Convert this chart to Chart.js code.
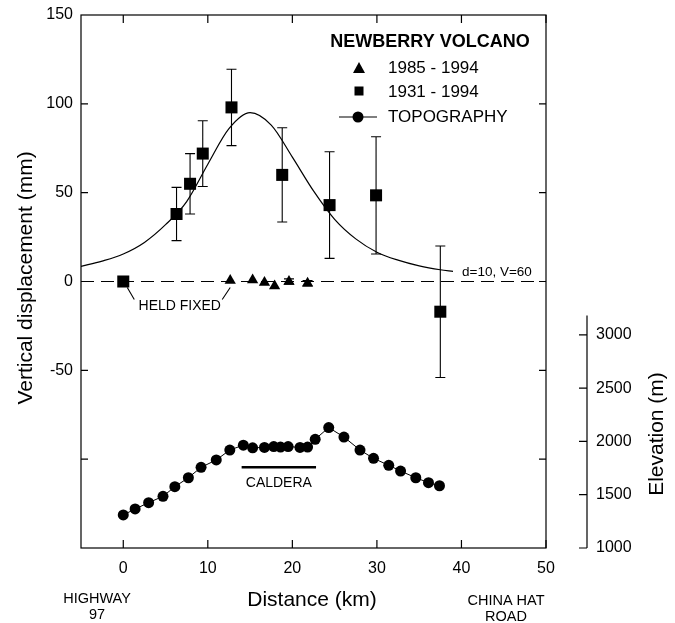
<!DOCTYPE html>
<html>
<head>
<meta charset="utf-8">
<script src="https://cdn.jsdelivr.net/npm/chart.js@4.4.1/dist/chart.umd.min.js"></script>
<style>
  html, body { margin: 0; padding: 0; background: #fff; }
  #chart-wrapper { width: 675px; height: 623px; }
</style>
</head>
<body>
<div id="chart-wrapper"><canvas id="chart"></canvas></div>
<script>
var distTicks = [0, 10, 20, 30, 40, 50];
var dispTicks = [-50, 0, 50, 100, 150];
var dispTickMarks = [-100, -50, 0, 50, 100];
var elevTicks = [1000, 1500, 2000, 2500, 3000];

// 1931 - 1994 (mm), +/- error
var sqDist = [0, 6.3, 7.9, 9.4, 12.8, 18.8, 24.4, 29.9, 37.5];
var sqDisp = [0, 38, 55, 72, 98, 60, 43, 48.5, -17];
var sqErr = [0, 15, 17, 18.5, 21.5, 26.5, 30, 33, 37];

// 1985 - 1994 (mm)
var triDist = [12.65, 15.3, 16.7, 17.9, 19.6, 21.8];
var triDisp = [0.5, 0.8, -0.5, -2.5, 0, -1];
var triErr = [0, 0, 0, 0, 1.5, 1.5];

// model curve d=10, V=60
var modelDist = [-5, -2.5, 0, 2.5, 5, 7.5, 10, 12.5, 15, 17.5, 20, 22.5, 25, 27.5, 30, 32.5, 35, 37.5, 39];
var modelDisp = [8.5, 11.5, 15.5, 22, 32, 45, 66, 86, 95, 88, 70, 51, 35, 24, 16.5, 12, 8.8, 6.6, 5.7];

// topography (m)
var topoDist = [0, 1.4, 3.0, 4.7, 6.1, 7.7, 9.2, 11.0, 12.6, 14.2, 15.3, 16.7, 17.8, 18.6, 19.5, 20.9, 21.8, 22.7, 24.3, 26.1, 28.0, 29.6, 31.4, 32.8, 34.6, 36.1, 37.4];
var topoElev = [1310, 1366, 1425, 1485, 1575, 1659, 1757, 1826, 1919, 1965, 1940, 1943, 1952, 1947, 1952, 1943, 1947, 2020, 2130, 2041, 1919, 1841, 1776, 1722, 1659, 1613, 1584];

var calderaDist = [14.0, 22.8];
var calderaElev = 1757;

var FONT = "'Liberation Sans', Arial, Helvetica, sans-serif";

function pts(xs, ys) {
  return xs.map(function(x, i) { return { x: x, y: ys[i] }; });
}

function fixTicks(list) {
  return function(scale) {
    scale.ticks = list.map(function(v) { return { value: v }; });
  };
}

// fixed box size, and no extra padding from the tick labels
function fixSize(w, h) {
  return function(scale) {
    if (w) scale.width = w;
    if (h) scale.height = h;
    scale.paddingTop = 0;
    scale.paddingBottom = 0;
    scale.paddingLeft = 0;
    scale.paddingRight = 0;
  };
}

function plain(v) { return String(v); }

var extras = {
  id: 'extras',
  afterDraw: function(chart) {
    var ctx = chart.ctx;
    var a = chart.chartArea;
    var xs = chart.scales.x, ys = chart.scales.y, es = chart.scales.elev;
    ctx.save();
    ctx.strokeStyle = '#000';
    ctx.fillStyle = '#000';
    ctx.lineWidth = 1.2;

    // frame
    ctx.strokeRect(a.left, a.top, a.right - a.left, a.bottom - a.top);

    // inward ticks
    ctx.beginPath();
    distTicks.forEach(function(v) {
      var p = xs.getPixelForValue(v);
      ctx.moveTo(p, a.bottom); ctx.lineTo(p, a.bottom - 8);
      ctx.moveTo(p, a.top); ctx.lineTo(p, a.top + 8);
    });
    dispTickMarks.forEach(function(v) {
      var p = ys.getPixelForValue(v);
      ctx.moveTo(a.left, p); ctx.lineTo(a.left + 7, p);
      ctx.moveTo(a.right, p); ctx.lineTo(a.right - 7, p);
    });
    ctx.stroke();

    // elevation axis
    var ex = a.right + 41;
    ctx.beginPath();
    ctx.moveTo(ex, es.getPixelForValue(3180));
    ctx.lineTo(ex, es.getPixelForValue(1000));
    elevTicks.forEach(function(v) {
      var p = es.getPixelForValue(v);
      ctx.moveTo(ex, p); ctx.lineTo(ex - 8, p);
    });
    ctx.stroke();

    // error bars
    ctx.lineWidth = 1.1;
    function bars(dx, dy, de) {
      ctx.beginPath();
      dx.forEach(function(x, i) {
        if (!de[i]) return;
        var px = xs.getPixelForValue(x);
        var y1 = ys.getPixelForValue(dy[i] + de[i]);
        var y2 = ys.getPixelForValue(dy[i] - de[i]);
        ctx.moveTo(px, y1); ctx.lineTo(px, y2);
        ctx.moveTo(px - 5, y1); ctx.lineTo(px + 5, y1);
        ctx.moveTo(px - 5, y2); ctx.lineTo(px + 5, y2);
      });
      ctx.stroke();
    }
    bars(sqDist, sqDisp, sqErr);
    bars(triDist, triDisp, triErr);

    // held fixed
    var y0 = ys.getPixelForValue(0);
    var p0 = xs.getPixelForValue(sqDist[0]);
    var p1 = xs.getPixelForValue(triDist[0]);
    ctx.beginPath();
    ctx.moveTo(p0 + 4, y0 + 6); ctx.lineTo(p0 + 11, y0 + 18);
    ctx.moveTo(p1, y0 + 6); ctx.lineTo(p1 - 8, y0 + 18);
    ctx.stroke();
    ctx.textAlign = 'center';
    ctx.textBaseline = 'middle';
    ctx.font = '14px ' + FONT;
    ctx.fillText('HELD FIXED', (p0 + p1) / 2 + 3, y0 + 25);

    // caldera label
    ctx.fillText('CALDERA', xs.getPixelForValue((calderaDist[0] + calderaDist[1]) / 2), es.getPixelForValue(calderaElev) + 16);

    // model label
    ctx.textAlign = 'left';
    ctx.font = '13.5px ' + FONT;
    ctx.fillText('d=10, V=60', 462, ys.getPixelForValue(modelDisp[modelDisp.length - 1]) + 1);

    // axis titles
    ctx.font = '21px ' + FONT;
    ctx.textAlign = 'center';
    ctx.fillText('Distance (km)', 312, 600);
    ctx.save();
    ctx.translate(26, 278);
    ctx.rotate(-Math.PI / 2);
    ctx.fillText('Vertical displacement (mm)', 0, 0);
    ctx.restore();
    ctx.save();
    ctx.translate(657, 434);
    ctx.rotate(-Math.PI / 2);
    ctx.fillText('Elevation (m)', 0, 0);
    ctx.restore();

    // road names
    ctx.font = '14.5px ' + FONT;
    ctx.fillText('HIGHWAY', 97, 599);
    ctx.fillText('97', 97, 615);
    ctx.fillText('CHINA HAT', 506, 601);
    ctx.fillText('ROAD', 506, 617);

    // legend
    ctx.font = 'bold 18px ' + FONT;
    ctx.fillText('NEWBERRY VOLCANO', 430, 42);
    ctx.font = '17px ' + FONT;
    ctx.textAlign = 'left';
    ctx.fillText('1985 - 1994', 388, 68);
    ctx.fillText('1931 - 1994', 388, 92);
    ctx.fillText('TOPOGRAPHY', 388, 117);
    ctx.beginPath();
    ctx.moveTo(359, 62); ctx.lineTo(365, 73); ctx.lineTo(353, 73); ctx.closePath();
    ctx.fill();
    ctx.fillRect(354.5, 86.5, 9, 9);
    ctx.beginPath();
    ctx.moveTo(339, 117); ctx.lineTo(377, 117);
    ctx.stroke();
    ctx.beginPath();
    ctx.arc(358, 117, 5.5, 0, Math.PI * 2);
    ctx.fill();

    ctx.restore();
  }
};

var ctx = document.getElementById('chart');
var chart = new Chart(ctx, {
  type: 'scatter',
  data: {
    datasets: [{
      label: 'model',
      data: pts(modelDist, modelDisp),
      showLine: true,
      borderColor: '#000',
      borderWidth: 1.2,
      pointRadius: 0,
      cubicInterpolationMode: 'monotone',
      yAxisID: 'y'
    }, {
      label: 'zero',
      data: [{ x: -5, y: 0 }, { x: 50, y: 0 }],
      showLine: true,
      borderColor: '#000',
      borderWidth: 1.2,
      borderDash: [13, 7],
      pointRadius: 0,
      yAxisID: 'y'
    }, {
      label: '1931 - 1994',
      data: pts(sqDist, sqDisp),
      pointStyle: 'rect',
      pointRadius: 8.5,
      backgroundColor: '#000',
      borderWidth: 0,
      yAxisID: 'y'
    }, {
      label: '1985 - 1994',
      data: pts(triDist, triDisp),
      pointStyle: 'triangle',
      pointRadius: 6.5,
      backgroundColor: '#000',
      borderColor: '#000',
      borderWidth: 0,
      yAxisID: 'y'
    }, {
      label: 'TOPOGRAPHY',
      data: pts(topoDist, topoElev),
      showLine: true,
      borderColor: '#000',
      borderWidth: 1,
      pointStyle: 'circle',
      pointRadius: 5.5,
      backgroundColor: '#000',
      pointBorderWidth: 0,
      yAxisID: 'elev'
    }, {
      label: 'caldera',
      data: calderaDist.map(function(x) { return { x: x, y: calderaElev }; }),
      showLine: true,
      borderColor: '#000',
      borderWidth: 2.5,
      pointRadius: 0,
      yAxisID: 'elev'
    }]
  },
  options: {
    responsive: true,
    maintainAspectRatio: false,
    animation: false,
    layout: { padding: { top: 15, left: 0, right: 0, bottom: 0 } },
    plugins: {
      legend: { display: false },
      tooltip: { enabled: false }
    },
    scales: {
      x: {
        type: 'linear',
        position: 'bottom',
        min: -5,
        max: 50,
        afterBuildTicks: fixTicks(distTicks),
        afterFit: fixSize(0, 75),
        grid: { display: false, drawTicks: false },
        border: { display: false },
        ticks: { color: '#000', padding: 11, callback: plain, font: { family: FONT, size: 16 } }
      },
      y: {
        type: 'linear',
        position: 'left',
        min: -150,
        max: 150,
        afterBuildTicks: fixTicks(dispTicks),
        afterFit: fixSize(81, 0),
        grid: { display: false, drawTicks: false },
        border: { display: false },
        ticks: { color: '#000', padding: 8, callback: plain, font: { family: FONT, size: 16 } }
      },
      elev: {
        type: 'linear',
        position: 'right',
        min: 1000,
        max: 6000,
        afterBuildTicks: fixTicks(elevTicks),
        afterFit: fixSize(129, 0),
        grid: { display: false, drawTicks: false },
        border: { display: false },
        ticks: { color: '#000', padding: 50, callback: plain, font: { family: FONT, size: 16 } }
      }
    }
  },
  plugins: [extras]
});
</script>
</body>
</html>
